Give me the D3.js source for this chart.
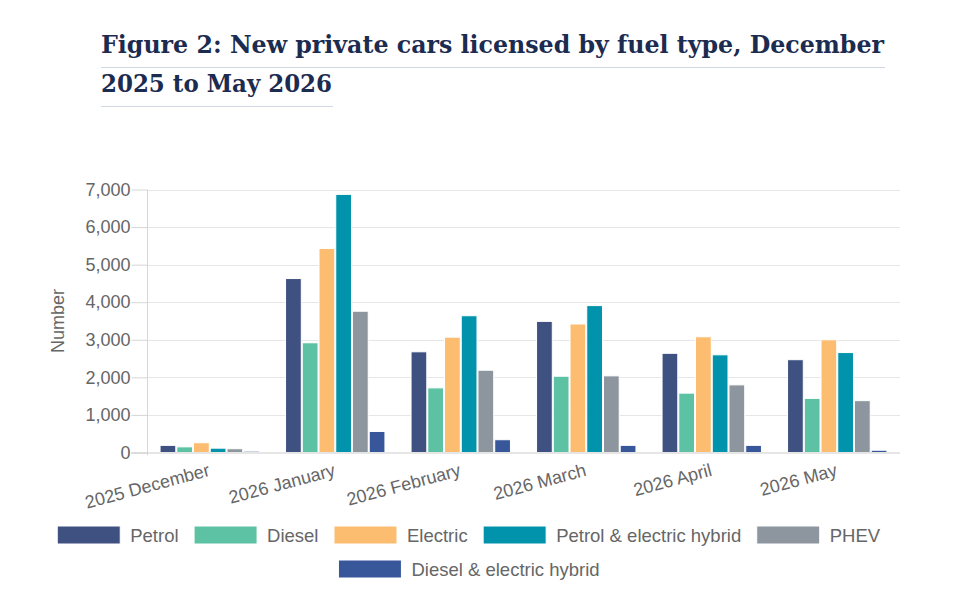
<!DOCTYPE html>
<html>
<head>
<meta charset="utf-8">
<script src="https://cdn.jsdelivr.net/npm/d3@7"></script>
<style>
  body { margin: 0; background: #fff; }
  svg { display: block; font-family: "Liberation Sans", Arial, sans-serif; }
</style>
</head>
<body>
<svg id="chart" width="980" height="597"></svg>
<script>
// months on the x axis
var categories = ["2025 December", "2026 January", "2026 February", "2026 March", "2026 April", "2026 May"];

// one array per fuel type, same order as categories
var petrol       = [190, 4630, 2680, 3490, 2640, 2470];
var diesel       = [150, 2920, 1720, 2030, 1580, 1440];
var electric     = [260, 5430, 3070, 3420, 3080, 3000];
var petrolHybrid = [115, 6870, 3640, 3910, 2600, 2660];
var phev         = [100, 3760, 2190, 2040, 1800, 1380];
var dieselHybrid = [35, 560, 340, 190, 190, 60];

var seriesNames  = ["Petrol", "Diesel", "Electric", "Petrol & electric hybrid", "PHEV", "Diesel & electric hybrid"];
var seriesColors = ["#3f5180", "#5cc2a3", "#fcbd70", "#0093ab", "#8d969e", "#38579b"];
var yTicks = [0, 1000, 2000, 3000, 4000, 5000, 6000, 7000];

var allSeries = [petrol, diesel, electric, petrolHybrid, phev, dieselHybrid];

var svg = d3.select("#chart");

// title, two lines with a rule under each
var titleLines = [
  {text: "Figure 2: New private cars licensed by fuel type, December", y: 53, w: 783},
  {text: "2025 to May 2026", y: 92, w: 231}
];
titleLines.forEach(function (t) {
  svg.append("text")
    .attr("x", 101)
    .attr("y", t.y)
    .attr("textLength", t.w)
    .attr("lengthAdjust", "spacingAndGlyphs")
    .style("font-family", "'DejaVu Serif', serif")
    .style("font-weight", "bold")
    .style("font-size", "24px")
    .style("fill", "#1c2b50")
    .text(t.text);
  svg.append("line")
    .attr("x1", 101).attr("x2", 101 + t.w + 1)
    .attr("y1", t.y + 14.5).attr("y2", t.y + 14.5)
    .style("stroke", "#cfd8e3")
    .style("stroke-width", 1);
});

var plotLeft = 147, plotRight = 900, plotTop = 189.5, plotBottom = 452.5;

var x = d3.scaleBand().domain(categories).range([plotLeft, plotRight]);
var x1 = d3.scaleBand()
  .domain(seriesNames)
  .range([x.bandwidth() * 0.1, x.bandwidth() * 0.9]);
var y = d3.scaleLinear().domain([0, 7000]).range([plotBottom, plotTop]);

// grid lines
svg.append("g")
  .selectAll("line")
  .data(yTicks.slice(1))
  .join("line")
  .attr("x1", plotLeft).attr("x2", plotRight)
  .attr("y1", function (d) { return Math.round(y(d)) + 0.5; })
  .attr("y2", function (d) { return Math.round(y(d)) + 0.5; })
  .style("stroke", "#e6e6e6")
  .style("stroke-width", 1);

// y axis
var yAxis = svg.append("g")
  .attr("transform", "translate(" + (plotLeft + 0.5) + ",0)")
  .call(d3.axisLeft(y).tickValues(yTicks).tickFormat(d3.format(",")).tickSize(16).tickPadding(1));
yAxis.select(".domain").remove();
yAxis.selectAll(".tick line").style("stroke", "#d6d6d6");
yAxis.selectAll(".tick text")
  .style("font-family", "'Liberation Sans', Arial, sans-serif")
  .style("font-size", "18px")
  .style("fill", "#666");
svg.append("line")
  .attr("x1", plotLeft + 0.5).attr("x2", plotLeft + 0.5)
  .attr("y1", plotTop).attr("y2", plotBottom + 3)
  .style("stroke", "#d6d6d6");

svg.append("text")
  .attr("transform", "translate(64," + ((plotTop + plotBottom) / 2) + ") rotate(-90)")
  .attr("text-anchor", "middle")
  .style("font-size", "18px")
  .style("fill", "#666")
  .text("Number");

// bars
var groups = svg.append("g")
  .selectAll("g")
  .data(categories)
  .join("g")
  .attr("transform", function (d) { return "translate(" + x(d) + ",0)"; });

groups.selectAll("rect")
  .data(function (d, i) {
    return seriesNames.map(function (s, j) { return {key: s, value: allSeries[j][i], color: seriesColors[j]}; });
  })
  .join("rect")
  .attr("x", function (d) { return x1(d.key) + 0.5; })
  .attr("y", function (d) { return y(d.value); })
  .attr("width", x1.bandwidth() - 1)
  .attr("height", function (d) { return plotBottom - y(d.value); })
  .style("fill", function (d) { return d.color; })
  .style("stroke", "#fff")
  .style("stroke-width", 1);

// baseline
svg.append("line")
  .attr("x1", plotLeft - 16).attr("x2", plotRight)
  .attr("y1", plotBottom + 0.5).attr("y2", plotBottom + 0.5)
  .style("stroke", "#cccccc");

// x axis labels, rotated
var xAxis = svg.append("g")
  .attr("transform", "translate(0," + plotBottom + ")")
  .call(d3.axisBottom(x).tickSize(0));
xAxis.select(".domain").remove();
xAxis.selectAll(".tick text")
  .attr("y", 0)
  .attr("dy", 0)
  .attr("text-anchor", "end")
  .attr("transform", "translate(1,23) rotate(-15)")
  .style("font-family", "'Liberation Sans', Arial, sans-serif")
  .style("font-size", "18px")
  .style("fill", "#666");

// legend, flowing rows centred under the chart
var legend = svg.append("g");
var items = legend.selectAll("g")
  .data(seriesNames)
  .join("g");
items.append("rect")
  .attr("width", 63).attr("height", 18)
  .attr("y", -9)
  .style("fill", function (d, i) { return seriesColors[i]; })
  .style("stroke", "#fff");
items.append("text")
  .attr("x", 73)
  .attr("y", 6.5)
  .style("font-size", "18.5px")
  .style("fill", "#666")
  .text(function (d) { return d; });

var rows = [], row = [], rowW = 0, maxW = 830, gap = 15.5;
items.each(function () {
  var w = this.getBBox().width;
  if (row.length && rowW + gap + w > maxW) { rows.push({items: row, w: rowW}); row = []; rowW = 0; }
  rowW += (row.length ? gap : 0) + w;
  row.push({node: this, w: w});
});
rows.push({items: row, w: rowW});
rows.forEach(function (r, ri) {
  var cx = 469 - r.w / 2;
  r.items.forEach(function (it) {
    d3.select(it.node).attr("transform", "translate(" + cx + "," + (535 + ri * 34) + ")");
    cx += it.w + gap;
  });
});
</script>
</body>
</html>
